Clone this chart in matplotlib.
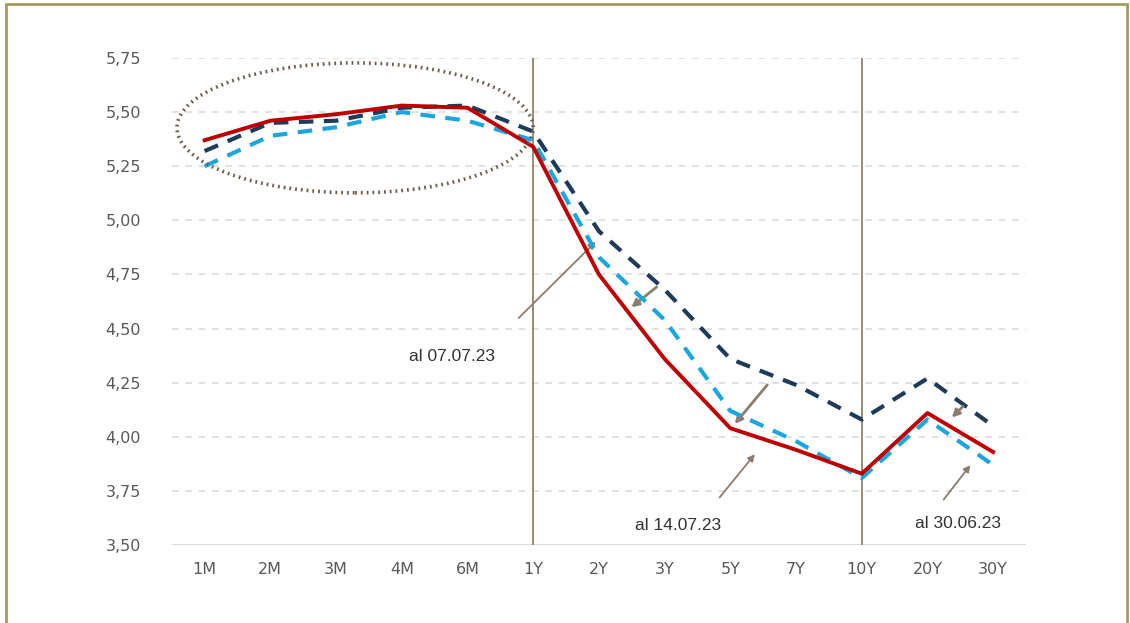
import numpy as np
import matplotlib
matplotlib.use("Agg")
from matplotlib import pyplot as plt
from matplotlib.patches import Ellipse, Rectangle

tenors = ["1M", "2M", "3M", "4M", "6M", "1Y", "2Y", "3Y", "5Y", "7Y", "10Y", "20Y", "30Y"]
curve_1407 = [5.37, 5.46, 5.49, 5.53, 5.52, 5.34, 4.75, 4.36, 4.04, 3.94, 3.83, 4.11, 3.93]
curve_0707 = [5.32, 5.45, 5.46, 5.52, 5.53, 5.41, 4.95, 4.68, 4.36, 4.24, 4.08, 4.27, 4.05]
curve_3006 = [5.25, 5.39, 5.43, 5.50, 5.46, 5.37, 4.83, 4.54, 4.12, 3.98, 3.81, 4.08, 3.87]
y_ticks = [3.50, 3.75, 4.00, 4.25, 4.50, 4.75, 5.00, 5.25, 5.50, 5.75]
y_labels = ["3,50", "3,75", "4,00", "4,25", "4,50", "4,75", "5,00", "5,25", "5,50", "5,75"]

RED = "#c00000"
NAVY = "#1f3b5a"
CYAN = "#1aa7df"
BROWN = "#8a7560"
ARROW = "#8c7d70"


def main():
    fig = plt.figure(figsize=(11.3, 6.23), dpi=100)
    fig.patches.append(Rectangle((0.005, -0.01), 0.992, 1.004, transform=fig.transFigure,
                                 fill=False, edgecolor="#a69a5c", lw=2))
    ax = fig.add_axes([0.152, 0.125, 0.756, 0.782])
    x = np.arange(len(tenors))

    for yv in y_ticks[1:]:
        ax.axhline(yv, color="#dcdcdc", lw=1.2, ls=(0, (4, 4)), zorder=1)
    ax.axhline(y_ticks[0], color="#d9d9d9", lw=1.5, zorder=1)

    ax.axvline(tenors.index("1Y"), color=BROWN, lw=1.2, zorder=2)
    ax.axvline(tenors.index("10Y"), color=BROWN, lw=1.2, zorder=2)

    ax.plot(x, curve_0707, color=NAVY, lw=3, ls=(0, (3.5, 2.5)), zorder=3)
    ax.plot(x, curve_3006, color=CYAN, lw=3, ls=(0, (3.5, 2.5)), zorder=4)
    ax.plot(x, curve_1407, color=RED, lw=2.8, zorder=5)

    ax.add_patch(Ellipse((2.29, 5.427), 5.42, 0.60, fill=False, edgecolor="#6e5e4e",
                         lw=2.6, ls=(0, (0.5, 1.1)), zorder=6))

    # etiquetas con flecha
    ax.annotate("", xy=(5.98, 4.91), xytext=(4.75, 4.54),
                arrowprops=dict(arrowstyle="-|>", color=ARROW, lw=1.3, mutation_scale=10))
    ax.text(3.76, 4.37, "al 07.07.23", ha="center", va="center", fontsize=12.5,
            family="Liberation Sans", color="#333333")
    ax.annotate("", xy=(8.40, 3.93), xytext=(7.81, 3.71),
                arrowprops=dict(arrowstyle="-|>", color=ARROW, lw=1.3, mutation_scale=10))
    ax.text(7.20, 3.59, "al 14.07.23", ha="center", va="center", fontsize=12.5,
            family="Liberation Sans", color="#333333")
    ax.annotate("", xy=(11.68, 3.88), xytext=(11.22, 3.70),
                arrowprops=dict(arrowstyle="-|>", color=ARROW, lw=1.3, mutation_scale=10))
    ax.text(11.46, 3.60, "al 30.06.23", ha="center", va="center", fontsize=12.5,
            family="Liberation Sans", color="#333333")

    # flechas pequeñas entre curvas
    for start, end in [((6.91, 4.70), (6.46, 4.59)),
                       ((8.59, 4.25), (8.04, 4.05)),
                       ((11.57, 4.15), (11.34, 4.08))]:
        ax.annotate("", xy=end, xytext=start,
                    arrowprops=dict(arrowstyle="-|>", color=ARROW, lw=2, mutation_scale=11))

    ax.set_xlim(-0.5, len(tenors) - 0.5)
    ax.set_ylim(3.5, 5.75)
    ax.set_xticks(x)
    ax.set_xticklabels(tenors)
    ax.set_yticks(y_ticks)
    ax.set_yticklabels(y_labels)
    ax.tick_params(length=0, labelsize=11.5, colors="#595959", pad=12)
    ax.tick_params(axis="y", pad=22)
    for s in ax.spines.values():
        s.set_visible(False)

    fig.savefig("out.png", dpi=100)


if __name__ == '__main__':
    main()
